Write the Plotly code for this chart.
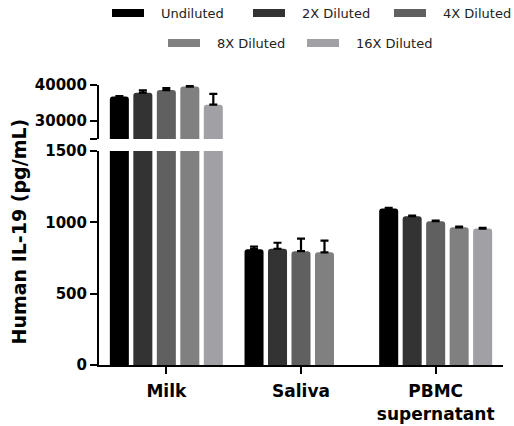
import plotly.graph_objects as go

categories = ["Milk", "Saliva", "PBMC<br>supernatant"]
series_names = ["Undiluted", "2X Diluted", "4X Diluted", "8X Diluted", "16X Diluted"]
colors = ["#000000", "#333333", "#606060", "#808080", "#a1a1a5"]

undiluted = [36800, 812, 1097]
x2_diluted = [37850, 815, 1043]
x4_diluted = [38580, 798, 1008]
x8_diluted = [39550, 790, 965]
x16_diluted = [34530, None, 956]
values = [undiluted, x2_diluted, x4_diluted, x8_diluted, x16_diluted]

err_undiluted = [150, 18, 4]
err_2x = [650, 42, 5]
err_4x = [570, 88, 5]
err_8x = [150, 82, 5]
err_16x = [3000, None, 6]
errors = [err_undiluted, err_2x, err_4x, err_8x, err_16x]

upper_ticks = [25000, 30000, 40000]
upper_ticklabels = ["", "30000", "40000"]
lower_ticks = [0, 500, 1000, 1500]
lower_ticklabels = ["0", "500", "1000", "1500"]
upper_range = [25000, 40000]
lower_range = [0, 1500]
BREAK_CATEGORY = "Milk"

W, H = 514, 426
L, R, T, B = 99, 11, 85, 61
PW, PH = W - L - R, H - T - B


def px_x(p):
    return (p - L) / PW


def px_y(p):
    return (H - B - p) / PH


fig = go.Figure()
idx_x = list(range(len(categories)))
for name, col, vals, errs in zip(series_names, colors, values, errors):
    # lower segment
    low_err = [0 if c == BREAK_CATEGORY or e is None else e for c, e in zip(categories, errs)]
    fig.add_trace(go.Bar(
        x=idx_x, y=vals, name=name, marker=dict(color=col, line=dict(width=0)),
        error_y=dict(type="data", array=low_err, arrayminus=[0] * len(low_err), symmetric=False,
                     color="black", thickness=2.2, width=4),
        xaxis="x", yaxis="y", showlegend=False, cliponaxis=True,
    ))
    # upper segment (only values inside upper range)
    up_vals = [v if (v is not None and v >= upper_range[0]) else None for v in vals]
    up_err = [e if (v is not None and v >= upper_range[0]) else 0 for v, e in zip(vals, errs)]
    fig.add_trace(go.Bar(
        x=idx_x, y=up_vals, name=name, marker=dict(color=col, line=dict(width=0)),
        error_y=dict(type="data", array=up_err, arrayminus=[0] * len(up_err), symmetric=False,
                     color="black", thickness=2.2, width=4),
        xaxis="x", yaxis="y2", showlegend=False,
    ))

# manual legend
leg_font = dict(family="DejaVu Sans", size=13, color="#222222")
legend_pos = [(112, 13), (253, 13), (394, 13), (168, 43), (307, 43)]
shapes = []
annotations = []
for (sx, sy), name, col in zip(legend_pos, series_names, colors):
    shapes.append(dict(type="rect", xref="paper", yref="paper",
                       x0=px_x(sx), x1=px_x(sx + 32), y0=px_y(sy + 4), y1=px_y(sy - 4),
                       fillcolor=col, line=dict(width=0), layer="above"))
    annotations.append(dict(x=px_x(sx + 47), y=px_y(sy), xref="paper", yref="paper",
                            text=name, showarrow=False, xanchor="left", yanchor="middle",
                            font=leg_font))

annotations.append(dict(x=px_x(18.5), y=px_y(232), xref="paper", yref="paper",
                        text="Human IL-19 (pg/mL)", textangle=-90, showarrow=False,
                        xanchor="center", yanchor="middle",
                        font=dict(family="DejaVu Sans", size=19, color="black", weight="bold")))

tick_font = dict(family="DejaVu Sans", size=15, color="black", weight="bold")

fig.update_layout(
    width=W, height=H,
    margin=dict(l=L, r=R, t=T, b=B, autoexpand=False),
    paper_bgcolor="white", plot_bgcolor="white",
    barmode="group", bargap=0.128, bargroupgap=0.19, barcornerradius=3,
    showlegend=False,
    xaxis=dict(type="linear", range=[-0.5, 2.5], tickmode="array", tickvals=idx_x,
               ticktext=categories, showgrid=False, zeroline=False, showline=True,
               linecolor="black", linewidth=2, ticks="outside", ticklen=7, tickwidth=2,
               tickcolor="black", anchor="y", automargin=False, ticklabelstandoff=3,
               tickfont=dict(family="DejaVu Sans", size=17, color="black", weight="bold")),
    yaxis=dict(domain=[0, px_y(151)], range=lower_range, tickmode="array",
               tickvals=lower_ticks, ticktext=lower_ticklabels, showgrid=False,
               zeroline=False, showline=True, linecolor="black", linewidth=2,
               ticks="outside", ticklen=7, tickwidth=2, tickcolor="black",
               tickfont=tick_font, anchor="x", automargin=False),
    yaxis2=dict(domain=[px_y(139), 1], range=upper_range, tickmode="array",
                tickvals=upper_ticks, ticktext=upper_ticklabels, showgrid=False,
                zeroline=False, showline=True, linecolor="black", linewidth=2,
                ticks="outside", ticklen=7, tickwidth=2, tickcolor="black",
                tickfont=tick_font, anchor="x", automargin=False),
    shapes=shapes, annotations=annotations,
)

fig.write_html(
    "out.html",
    config={"displayModeBar": False},
    post_script="document.body.style.margin='0';document.body.style.overflow='hidden';",
)
